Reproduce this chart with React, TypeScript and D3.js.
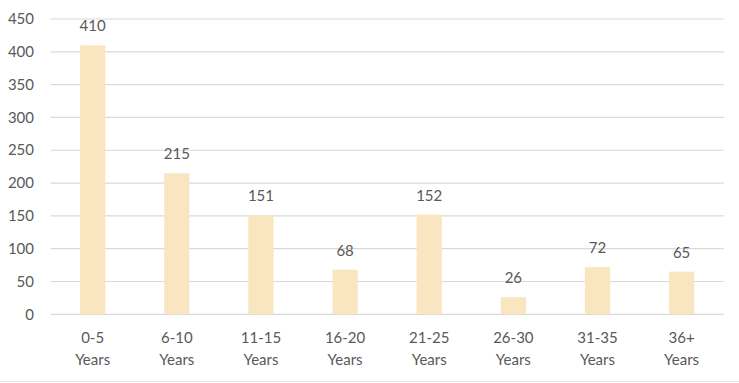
import React from "react";
import * as d3 from "d3";

const categories = ["0-5", "6-10", "11-15", "16-20", "21-25", "26-30", "31-35", "36+"];
const values = [410, 215, 151, 68, 152, 26, 72, 65];
const yTicks = [0, 50, 100, 150, 200, 250, 300, 350, 400, 450];

const W = 739;
const H = 383;
const FONT = "Lato, 'Open Sans', 'Liberation Sans', sans-serif";
const TEXT = "#595959";

export default function App() {
  const x = d3.scaleBand<string>().domain(categories).range([50.6, 723.7]).paddingInner(0.7).paddingOuter(0.35);
  const y = d3.scaleLinear().domain([0, 450]).range([314.3, 19]);

  return (
    <svg width={W} height={H} style={{ position: "absolute", left: 0, top: 0, background: "#fff" }} fontFamily={FONT}>
      <rect x={0} y={0} width={W} height={H} fill="#fff" />
      {yTicks.map((t) => (
        <g key={t}>
          <line x1={50.6} x2={723.7} y1={y(t)} y2={y(t)} stroke="#D9D9D9" strokeWidth={1.2} />
          <text x={34} y={y(t)} dy="0.35em" textAnchor="end" fontSize={15} fill={TEXT}>
            {t}
          </text>
        </g>
      ))}
      {categories.map((c, i) => {
        const bx = x(c)!;
        const cx = bx + x.bandwidth() / 2;
        return (
          <g key={c}>
            <rect x={bx} y={y(values[i])} width={x.bandwidth()} height={y(0) - y(values[i])} fill="#F9E6C0" />
            <text x={cx} y={y(values[i]) - 14} textAnchor="middle" fontSize={15} fill={TEXT}>
              {values[i]}
            </text>
            <text x={cx} y={343} textAnchor="middle" fontSize={15} fill={TEXT}>
              {c}
            </text>
            <text x={cx} y={365} textAnchor="middle" fontSize={15} fill={TEXT}>
              Years
            </text>
          </g>
        );
      })}
      <line x1={0} x2={W} y1={381.5} y2={381.5} stroke="#E6E6E6" strokeWidth={1} />
    </svg>
  );
}
